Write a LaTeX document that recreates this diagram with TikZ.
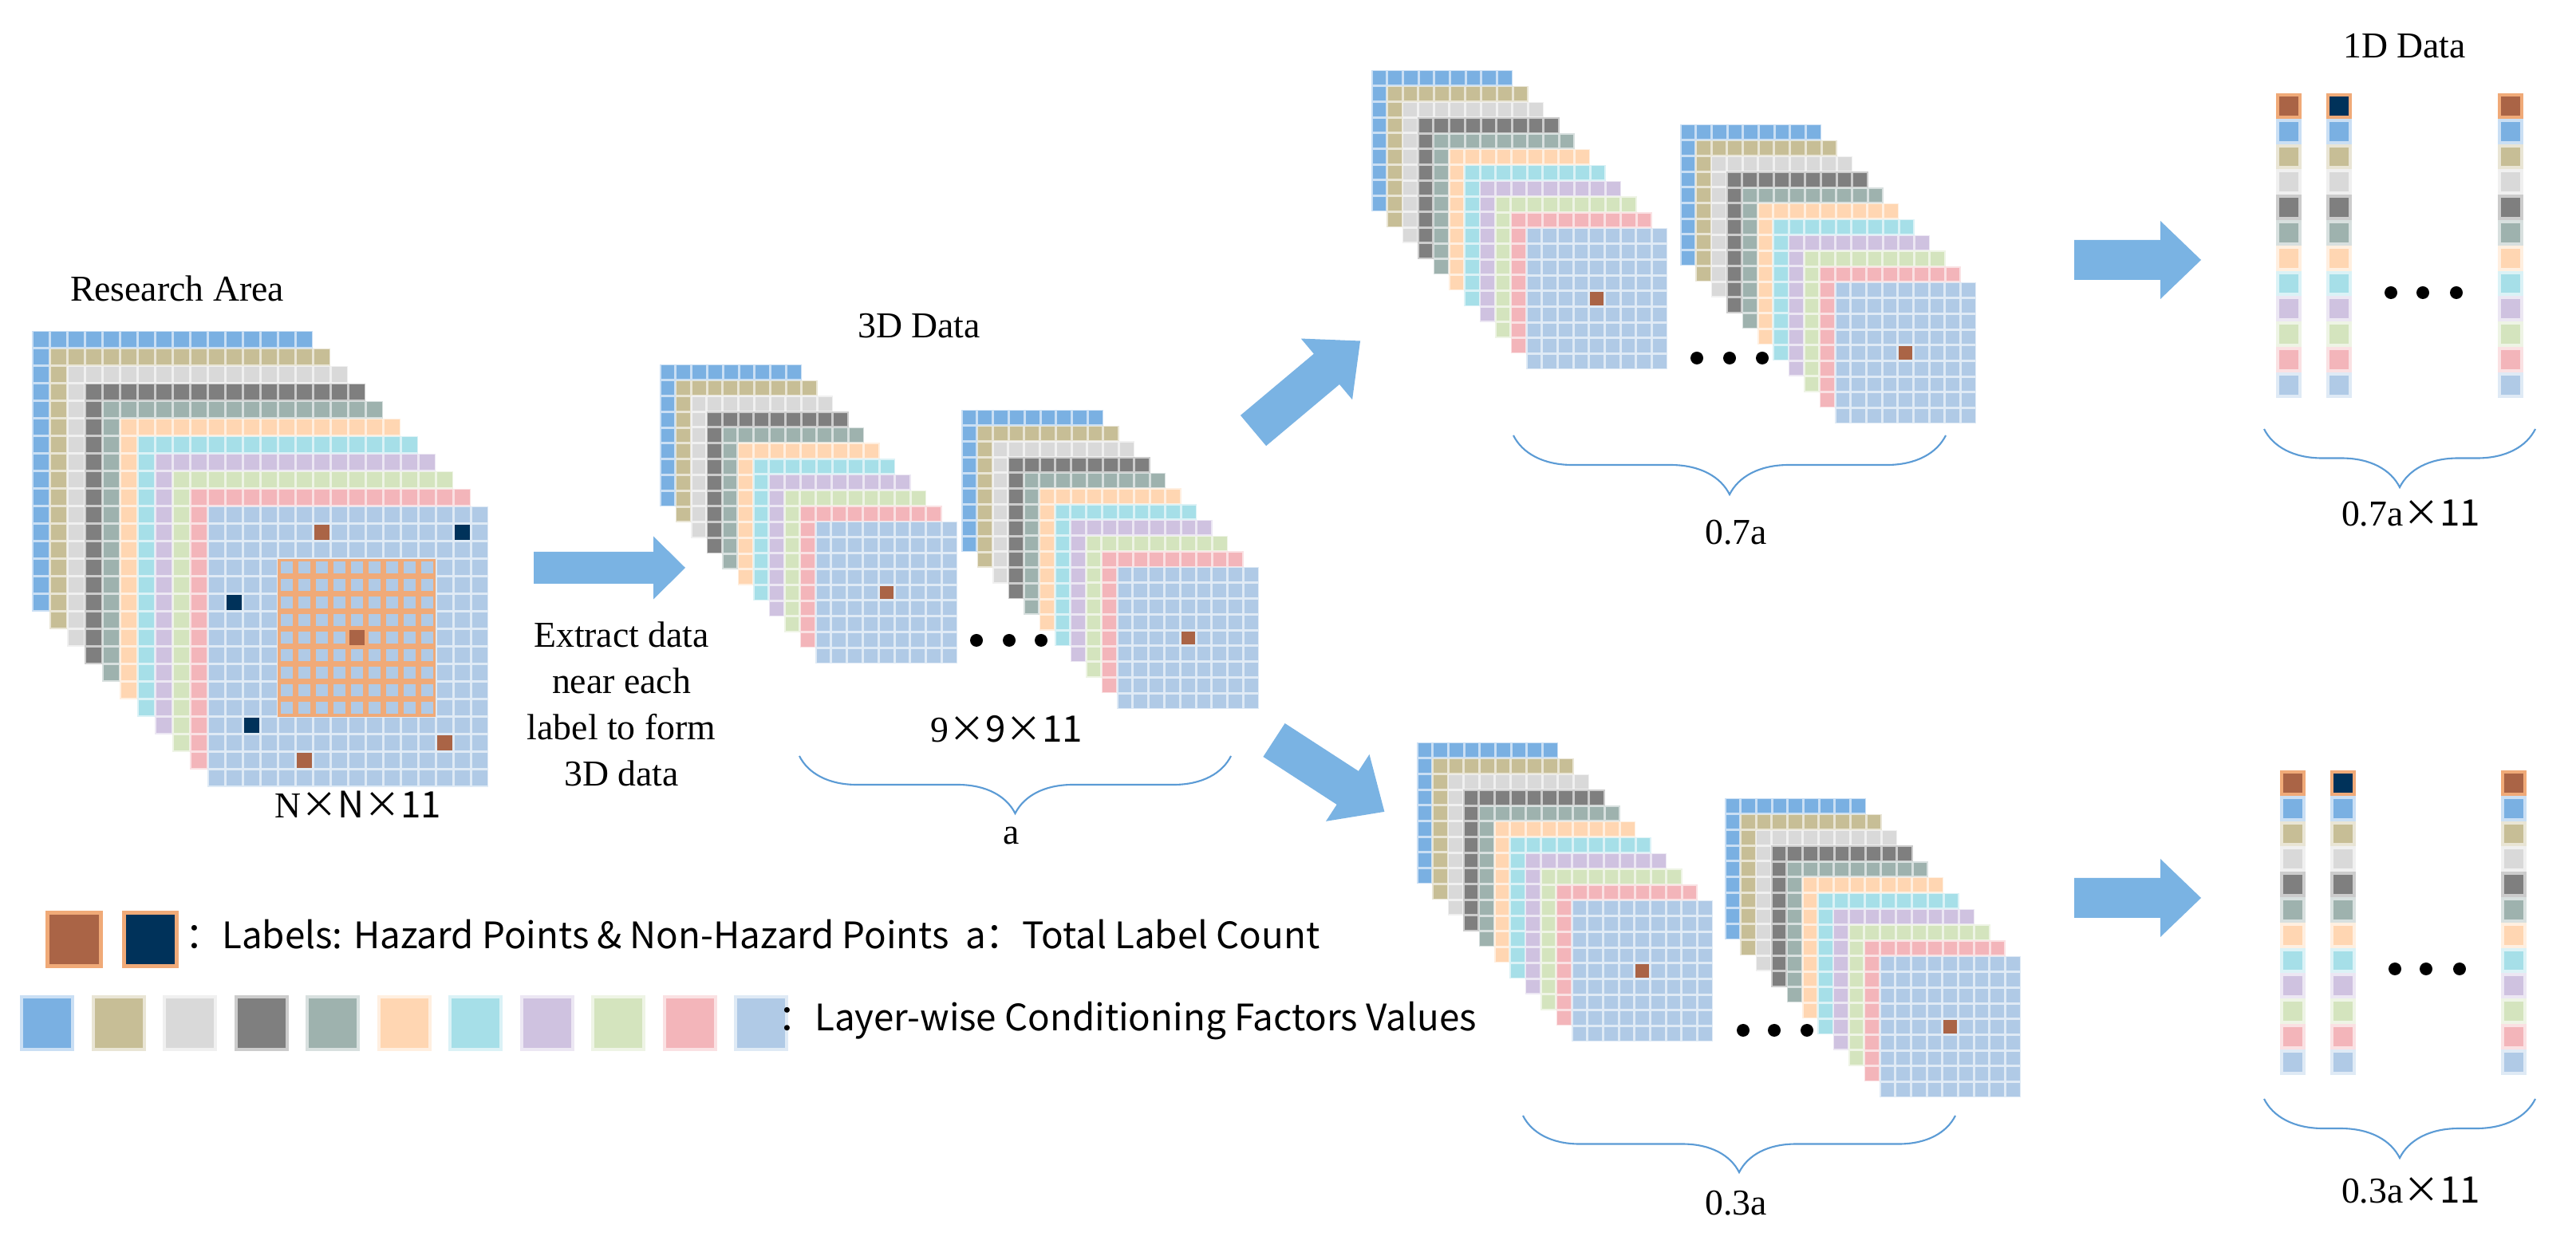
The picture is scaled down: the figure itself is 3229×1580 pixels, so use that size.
\documentclass[tikz,border=0pt]{standalone}
\usepackage{fontspec}
\setmainfont{Liberation Serif}
\newfontfamily\cjk{Noto Sans CJK SC}
\usetikzlibrary{decorations.pathreplacing}
\definecolor{cA}{HTML}{7AB0E2}
\definecolor{cB}{HTML}{C7BE96}
\definecolor{cC}{HTML}{D9D9D9}
\definecolor{cD}{HTML}{7F7F7F}
\definecolor{cE}{HTML}{9EB2AE}
\definecolor{cF}{HTML}{FFD6B2}
\definecolor{cG}{HTML}{A6DFE8}
\definecolor{cH}{HTML}{CFC2E0}
\definecolor{cI}{HTML}{D4E4BE}
\definecolor{cJ}{HTML}{F3B5BA}
\definecolor{cK}{HTML}{B0CAE6}
\definecolor{hz}{HTML}{AA6446}
\definecolor{nh}{HTML}{00325A}
\definecolor{orng}{HTML}{F0AA78}
\definecolor{arrc}{HTML}{7AB3E3}
\definecolor{brc}{HTML}{5B9BD5}
\newcommand\mylayer[5]{%
  \fill[#5!40!white] ({#1},{#2}) rectangle ++({#3*#4},{#3*#4});
  \foreach \i in {1,...,#3}{\foreach \j in {1,...,#3}{%
    \fill[#5] ({#1+(\i-1)*#4+1.5},{#2+(\j-1)*#4+1.5}) rectangle ++({#4-3},{#4-3});}}}
\newcommand\mystack[6]{%
  \foreach \c [count=\k from 0] in {cA,cB,cC,cD,cE,cF,cG,cH,cI,cJ,cK}{%
    \mylayer{#1+\k*#5}{#2+\k*#6}{#3}{#4}{\c}}}
\newcommand\cellmark[6]{\fill[#6] ({#1+#3*#5+1.5},{#2+#4*#5+1.5}) rectangle ++({#5-3},{#5-3});}
\newcommand\onecol[3]{%
  \fill[orng] (#1,#2) rectangle ++(32,31.8);
  \fill[#3] ({#1+4},{#2+4}) rectangle ++(24,23.8);
  \foreach \c [count=\k] in {cA,cB,cC,cD,cE,cF,cG,cH,cI,cJ,cK}{%
    \fill[\c!40!white] (#1,{#2+\k*31.8}) rectangle ++(32,31.8);
    \fill[\c] ({#1+4},{#2+\k*31.8+4}) rectangle ++(24,23.8);}}
\newcommand\bigarr[7]{%
  \begin{scope}[shift={(#1,#2)},rotate=#3]
  \fill[arrc] (0,{-#5/2}) -- ({#4-#7},{-#5/2}) -- ({#4-#7},{-#6/2}) -- (#4,0)
     -- ({#4-#7},{#6/2}) -- ({#4-#7},{#5/2}) -- (0,{#5/2}) -- cycle;
  \end{scope}}
\newcommand\threedots[3]{\fill (#1,#3) circle (8) (#2,#3) circle (8);}
\tikzset{lbl/.style={font=\fontsize{13}{16.5}\selectfont, inner sep=0pt},
  br/.style={draw=brc, line width=0.6pt, decorate}}
\begin{document}
\begin{tikzpicture}[x=0.01cm,y=-0.01cm]
\useasboundingbox[fill=white] (0,0) rectangle (3229,1580);
% research area
\mystack{40}{415}{16}{22}{22}{22}
\fill[orng] (348,701) rectangle ++(198,198);
\foreach \i in {0,...,8}{\foreach \j in {0,...,8}{%
  \fill[cK] ({348+\i*22+3.5},{701+\j*22+3.5}) rectangle ++(15,15);}}
\cellmark{260}{635}{6}{1}{22}{hz}
\cellmark{260}{635}{14}{1}{22}{nh}
\cellmark{260}{635}{1}{5}{22}{nh}
\cellmark{260}{635}{2}{12}{22}{nh}
\cellmark{260}{635}{13}{13}{22}{hz}
\cellmark{260}{635}{5}{14}{22}{hz}
\cellmark{260}{635}{8}{7}{22}{hz}
\node[lbl] (ra) at (222,362) {Research Area};
\node[lbl] (nn) at (449,1009) {N\cjk{×}N\cjk{×}11};
% extraction
\bigarr{669}{712}{0}{190}{40}{79}{40}
\node[lbl, align=center] (ex) at (779,883) {Extract data\\near each\\label to form\\3D data};
% 3D data
\mystack{827}{457}{9}{19.8}{19.5}{19.7}
\cellmark{1022}{654}{4}{4}{19.8}{hz}
\mystack{1205}{514}{9}{19.8}{19.5}{19.7}
\cellmark{1400}{711}{4}{4}{19.8}{hz}
\fill (1224,803) circle (8); \threedots{1265}{1305}{803}
\node[lbl] (t3d) at (1152,409) {3D Data};
\node[lbl] (t99) at (1262,914) {9\cjk{×}9\cjk{×}11};
\draw[br, decoration={brace,mirror,amplitude=0.72cm}] (1002,948) -- (1543,948);
\node[lbl] (ta) at (1268,1048) {a};
% split arrows
\bigarr{1571}{540}{40}{175}{50}{100}{55}
\bigarr{1597}{928}{-33}{165}{50}{100}{55}
% 0.7a
\mystack{1719}{88}{9}{19.7}{19.4}{19.8}
\cellmark{1913}{286}{4}{4}{19.7}{hz}
\mystack{2106}{156}{9}{19.7}{19.4}{19.8}
\cellmark{2300}{354}{4}{4}{19.7}{hz}
\fill (2127,449) circle (8); \threedots{2168}{2209}{449}
\draw[br, decoration={brace,mirror,amplitude=0.74cm}] (1897,546) -- (2439,546);
\node[lbl] (t07) at (2176,668) {0.7a};
% 0.3a
\mystack{1776}{931}{9}{19.7}{19.4}{19.8}
\cellmark{1970}{1129}{4}{4}{19.7}{hz}
\mystack{2162}{1001}{9}{19.7}{19.4}{19.8}
\cellmark{2356}{1199}{4}{4}{19.7}{hz}
\fill (2185,1292) circle (8); \threedots{2224}{2265}{1292}
\draw[br, decoration={brace,mirror,amplitude=0.71cm}] (1909,1399) -- (2451,1399);
\node[lbl] (t03) at (2176,1509) {0.3a};
% 1D
\bigarr{2600}{326}{0}{159}{50}{98}{51}
\bigarr{2600}{1126}{0}{159}{50}{98}{51}
\onecol{2853}{117}{hz}\onecol{2916}{117}{nh}\onecol{3131}{117}{hz}
\onecol{2858}{966}{hz}\onecol{2921}{966}{nh}\onecol{3135}{966}{hz}
\fill (2997,367) circle (8); \threedots{3037}{3079}{367}
\fill (3002,1215) circle (8); \threedots{3041}{3083}{1215}
\node[lbl] (t1d) at (3014,58) {1D Data};
\draw[br, decoration={brace,mirror,amplitude=0.73cm}] (2838,538) -- (3178,538);
\node[lbl] (t07x) at (3022,644) {0.7a\cjk{×}11};
\draw[br, decoration={brace,mirror,amplitude=0.74cm}] (2838,1378) -- (3178,1378);
\node[lbl] (t03x) at (3022,1493) {0.3a\cjk{×}11};
% legend
\fill[orng] (57,1142) rectangle (129,1214); \fill[hz] (62,1147) rectangle (124,1209);
\fill[orng] (153,1142) rectangle (224,1214); \fill[nh] (158,1147) rectangle (219,1209);
\node[lbl, anchor=west] (lg1) at (232,1172) {\cjk{：}Labels: Hazard Points \& Non-Hazard Points\ \ a\cjk{：}Total Label Count};
\foreach \c [count=\k from 0] in {cA,cB,cC,cD,cE,cF,cG,cH,cI,cJ,cK}{%
  \fill[\c!40!white] ({25+\k*89.5},1248) rectangle ++(68,70);
  \fill[\c] ({29+\k*89.5},1252) rectangle ++(60,62);}
\node[lbl, anchor=west] (lg2) at (975,1280) {\cjk{：}Layer-wise Conditioning Factors Values};
\end{tikzpicture}
\end{document}
